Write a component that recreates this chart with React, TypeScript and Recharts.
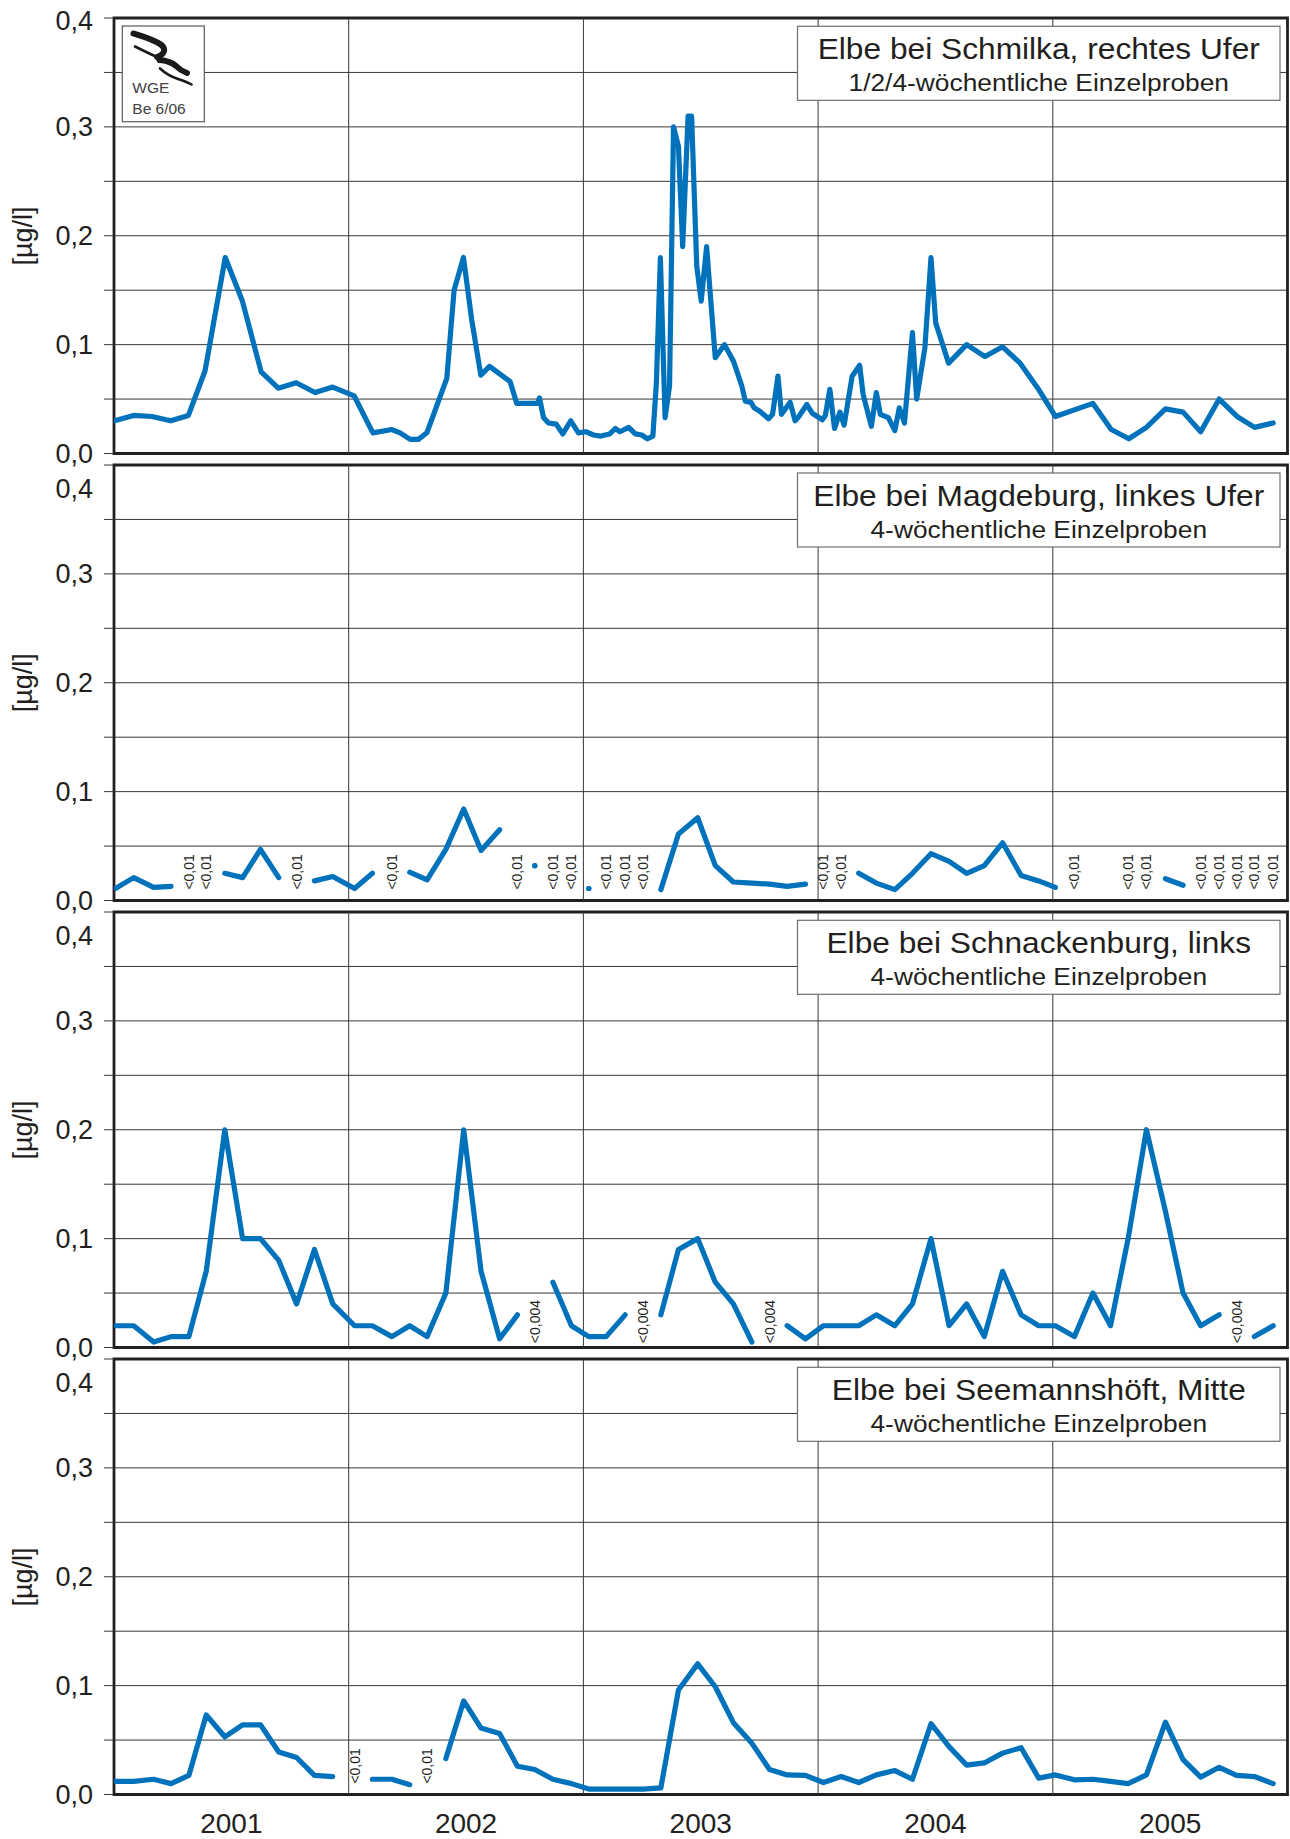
import React from "react";
import {
  LineChart,
  Line,
  XAxis,
  YAxis,
  CartesianGrid,
  ReferenceLine,
  ReferenceArea,
} from "recharts";

// Messwerte in µg/l. Zahl = Messwert, Text = Wert unter der Bestimmungsgrenze,
// null = keine Probe.
type Messwert = number | string | null;

// Schmilka: 1/2/4-wöchentliche Einzelproben (Dezimaljahr)
const schmilkaTermine = [
  2001.002, 2001.083, 2001.161, 2001.242, 2001.317, 2001.388, 2001.474, 2001.547, 2001.627, 2001.7,
  2001.776, 2001.857, 2001.932, 2002.023, 2002.103, 2002.184, 2002.219, 2002.262, 2002.297, 2002.333,
  2002.418, 2002.449, 2002.489, 2002.524, 2002.563, 2002.6, 2002.688, 2002.716, 2002.804, 2002.813,
  2002.83, 2002.851, 2002.884, 2002.912, 2002.946, 2002.979, 2003.01, 2003.043, 2003.074, 2003.112,
  2003.137, 2003.155, 2003.193, 2003.221, 2003.249, 2003.273, 2003.296, 2003.311, 2003.328, 2003.348,
  2003.367, 2003.384, 2003.405, 2003.423, 2003.446, 2003.461, 2003.483, 2003.502, 2003.525, 2003.54,
  2003.562, 2003.601, 2003.639, 2003.675, 2003.69, 2003.714, 2003.727, 2003.75, 2003.789, 2003.806,
  2003.829, 2003.844, 2003.881, 2003.902, 2003.918, 2003.952, 2003.975, 2004.018, 2004.031, 2004.05,
  2004.07, 2004.093, 2004.111, 2004.145, 2004.177, 2004.192, 2004.227, 2004.248, 2004.265, 2004.299,
  2004.327, 2004.346, 2004.368, 2004.402, 2004.42, 2004.455, 2004.481, 2004.501, 2004.556, 2004.633,
  2004.711, 2004.786, 2004.861, 2004.936, 2005.011, 2005.171, 2005.249, 2005.324, 2005.399, 2005.48,
  2005.555, 2005.63, 2005.709, 2005.785, 2005.86, 2005.939,
];
const schmilkaWerte: Messwert[] = [
  0.03, 0.035, 0.034, 0.03, 0.035, 0.076, 0.18, 0.14, 0.075, 0.06,
  0.065, 0.056, 0.061, 0.053, 0.019, 0.022, 0.019, 0.013, 0.013, 0.019,
  0.069, 0.15, 0.18, 0.123, 0.072, 0.08, 0.066, 0.046, 0.046, 0.051,
  0.033, 0.028, 0.027, 0.018, 0.03, 0.019, 0.02, 0.017, 0.016, 0.018,
  0.023, 0.02, 0.024, 0.018, 0.017, 0.0135, 0.016, 0.065, 0.18, 0.033,
  0.062, 0.3, 0.282, 0.19, 0.31, 0.31, 0.172, 0.14, 0.19, 0.148,
  0.088, 0.1, 0.085, 0.062, 0.048, 0.047, 0.042, 0.039, 0.032, 0.036,
  0.071, 0.036, 0.047, 0.03, 0.034, 0.045, 0.037, 0.031, 0.035, 0.059,
  0.023, 0.038, 0.026, 0.071, 0.081, 0.054, 0.025, 0.056, 0.036, 0.033,
  0.021, 0.042, 0.028, 0.111, 0.05, 0.097, 0.18, 0.12, 0.083, 0.1,
  0.089, 0.098, 0.083, 0.06, 0.034, 0.046, 0.022, 0.0135, 0.024, 0.041,
  0.038, 0.02, 0.05, 0.034, 0.024, 0.028,
];

// 4-wöchentliche Probenahmetermine (Dezimaljahr)
const probenTermine = [
  2001.006, 2001.084, 2001.169, 2001.243, 2001.319, 2001.393, 2001.472, 2001.548, 2001.624, 2001.702, 2001.778, 2001.854, 2001.932,
  2002.025, 2002.101, 2002.184, 2002.26, 2002.334, 2002.414, 2002.49, 2002.564, 2002.643, 2002.719, 2002.793, 2002.87, 2002.949,
  2003.023, 2003.097, 2003.178, 2003.253, 2003.33, 2003.405, 2003.487, 2003.562, 2003.639, 2003.718, 2003.793, 2003.868, 2003.946,
  2004.023, 2004.098, 2004.173, 2004.248, 2004.327, 2004.402, 2004.481, 2004.558, 2004.633, 2004.708, 2004.786, 2004.865, 2004.94,
  2005.011, 2005.092, 2005.171, 2005.246, 2005.321, 2005.399, 2005.48, 2005.555, 2005.63, 2005.709, 2005.783, 2005.859, 2005.939,
];

const magdeburgWerte: Messwert[] = [
  0.011, 0.021, 0.012, 0.013, "<0,01", "<0,01", 0.025, 0.021, 0.047, 0.021, "<0,01", 0.018, 0.022,
  0.011, 0.025, "<0,01", 0.026, 0.019, 0.047, 0.084, 0.046, 0.065, "<0,01", 0.032, "<0,01", "<0,01",
  0.011, "<0,01", "<0,01", "<0,01", 0.01, 0.061, 0.076, 0.032, 0.017, 0.016, 0.015, 0.013, 0.015,
  "<0,01", "<0,01", 0.025, 0.016, 0.01, 0.025, 0.043, 0.036, 0.025, 0.032, 0.053, 0.023, 0.018,
  0.012, "<0,01", null, null, "<0,01", "<0,01", 0.02, 0.014, "<0,01", "<0,01", "<0,01", "<0,01", "<0,01",
];

const schnackenburgWerte: Messwert[] = [
  0.02, 0.02, 0.005, 0.01, 0.01, 0.07, 0.2, 0.1, 0.1, 0.08, 0.04, 0.09, 0.04,
  0.02, 0.02, 0.01, 0.02, 0.01, 0.05, 0.2, 0.07, 0.008, 0.03, "<0,004", 0.06, 0.02,
  0.01, 0.01, 0.03, "<0,004", 0.03, 0.09, 0.1, 0.06, 0.04, 0.005, "<0,004", 0.02, 0.008,
  0.02, 0.02, 0.02, 0.03, 0.02, 0.04, 0.1, 0.02, 0.04, 0.01, 0.07, 0.03, 0.02,
  0.02, 0.01, 0.05, 0.02, 0.1, 0.2, 0.125, 0.05, 0.02, 0.03, "<0,004", 0.01, 0.02,
];

const seemannshoeftWerte: Messwert[] = [
  0.012, 0.012, 0.014, 0.01, 0.0175, 0.073, 0.053, 0.064, 0.064, 0.039, 0.034, 0.0175, 0.0165,
  "<0,01", 0.014, 0.014, 0.009, "<0,01", 0.033, 0.086, 0.061, 0.056, 0.026, 0.023, 0.014, 0.01,
  0.005, 0.005, 0.005, 0.005, 0.006, 0.096, 0.12, 0.099, 0.066, 0.047, 0.023, 0.018, 0.0175,
  0.011, 0.0165, 0.011, 0.018, 0.022, 0.014, 0.065, 0.044, 0.027, 0.029, 0.038, 0.043, 0.015,
  0.018, 0.0135, 0.014, 0.012, 0.01, 0.018, 0.0665, 0.032, 0.016, 0.025, 0.0175, 0.0165, 0.01,
];

const jahre = [2001, 2002, 2003, 2004, 2005];
const yTicks = [0, 0.05, 0.1, 0.15, 0.2, 0.25, 0.3, 0.35, 0.4];

const stationen = [
  { titel: "Elbe bei Schmilka, rechtes Ufer", untertitel: "1/2/4-wöchentliche Einzelproben", termine: schmilkaTermine, werte: schmilkaWerte },
  { titel: "Elbe bei Magdeburg, linkes Ufer", untertitel: "4-wöchentliche Einzelproben", termine: probenTermine, werte: magdeburgWerte },
  { titel: "Elbe bei Schnackenburg, links", untertitel: "4-wöchentliche Einzelproben", termine: probenTermine, werte: schnackenburgWerte },
  { titel: "Elbe bei Seemannshöft, Mitte", untertitel: "4-wöchentliche Einzelproben", termine: probenTermine, werte: seemannshoeftWerte },
];

// ---- Darstellung ----
const BLAU = "#0072bc";
const TEXT = "#231f20";
const GITTER = "#383838";
const FONT = "'Liberation Sans', Arial, Helvetica, sans-serif";
const LINIE = 5.2;
const PLOT_LEFT = 114;
const PLOT_RIGHT_MARGIN = 2.5;
const PANEL_H = 435.5;
const PAD = 20;
const ACHSE_H = 44;
const PANEL_TOPS = [18.3, 465, 912.3, 1359.3];
const BOX_X = 797.5;
const BOX_W = 482.5;

type Punkt = { t: number; wert: number | null; grenze: number | null; hinweis: string | null };

function aufbereiten(termine: number[], werte: Messwert[]): Punkt[] {
  return termine.map((t, i) => {
    const v = werte[i];
    if (typeof v === "string") {
      return { t, wert: null, grenze: parseFloat(v.slice(1).replace(",", ".")), hinweis: v };
    }
    return { t, wert: v, grenze: null, hinweis: null };
  });
}

const fmt = (v: number) => v.toFixed(1).replace(".", ",");

function WertTick(props: any) {
  const { y, payload, obenVersatz } = props;
  const v: number = payload.value;
  const zehntel = Math.abs(v * 10 - Math.round(v * 10)) < 1e-6;
  const dy = v >= 0.399 ? obenVersatz : 0;
  return (
    <g>
      <line x1={PLOT_LEFT - 10} x2={PLOT_LEFT} y1={y} y2={y} stroke={GITTER} strokeWidth={1} />
      {zehntel && (
        <text
          x={93}
          y={y + dy}
          textAnchor="end"
          dominantBaseline="central"
          fontFamily={FONT}
          fontSize={27}
          fill={TEXT}
        >
          {fmt(v)}
        </text>
      )}
    </g>
  );
}

function JahrTick(props: any) {
  const { x, payload } = props;
  return (
    <text x={x} y={PAD + PANEL_H + 38.5} textAnchor="middle" fontFamily={FONT} fontSize={28} fill={TEXT}>
      {String(Math.floor(payload.value))}
    </text>
  );
}

function Panel({ index }: { index: number }) {
  const station = stationen[index];
  const daten = aufbereiten(station.termine, station.werte);
  const letztes = index === stationen.length - 1;
  const obenVersatz = index === 0 ? 3 : 24;

  const einzelPunkt = (p: any) => {
    const i = p.index;
    const key = `p${i}`;
    if (p.cx == null || p.cy == null || daten[i] == null || daten[i].wert == null) return <g key={key} />;
    const vor = i > 0 ? daten[i - 1].wert : null;
    const nach = i < daten.length - 1 ? daten[i + 1].wert : null;
    if (vor == null && nach == null) {
      return <circle key={key} cx={p.cx} cy={p.cy} r={2.6} fill={BLAU} />;
    }
    return <g key={key} />;
  };

  const grenzHinweis = (p: any) => {
    const i = p.index;
    const key = `g${i}`;
    const d = daten[i];
    if (p.cx == null || p.cy == null || d == null || d.hinweis == null) return <g key={key} />;
    return (
      <text
        key={key}
        x={p.cx}
        y={p.cy}
        transform={`rotate(-90 ${p.cx} ${p.cy})`}
        textAnchor="start"
        dominantBaseline="central"
        fontFamily={FONT}
        fontSize={14}
        fill={TEXT}
      >
        {d.hinweis}
      </text>
    );
  };

  const height = PAD + PANEL_H + (letztes ? ACHSE_H : PAD);

  return (
    <div style={{ position: "absolute", left: 0, top: PANEL_TOPS[index] - PAD }}>
      <LineChart
        width={1290}
        height={height}
        data={daten}
        margin={{ top: PAD, right: PLOT_RIGHT_MARGIN, left: 0, bottom: letztes ? 0 : PAD }}
      >
        <CartesianGrid vertical={false} stroke={GITTER} strokeWidth={1} />
        {jahre.slice(1).map((j) => (
          <ReferenceLine key={j} x={j} stroke={GITTER} strokeWidth={1} />
        ))}
        <XAxis
          dataKey="t"
          type="number"
          domain={[jahre[0], jahre[jahre.length - 1] + 1]}
          ticks={jahre.map((j) => j + 0.5)}
          hide={!letztes}
          height={ACHSE_H}
          tickLine={false}
          axisLine={false}
          interval={0}
          tick={<JahrTick />}
          allowDataOverflow
        />
        <YAxis
          type="number"
          domain={[0, 0.4]}
          ticks={yTicks}
          width={PLOT_LEFT}
          interval={0}
          tickLine={false}
          axisLine={false}
          tick={(p: any) => <WertTick {...p} obenVersatz={obenVersatz} />}
          allowDataOverflow
        />
        <ReferenceArea
          x1={jahre[0]}
          x2={jahre[jahre.length - 1] + 1}
          y1={0}
          y2={0.4}
          fill="none"
          fillOpacity={0}
          stroke={TEXT}
          strokeWidth={2.8}
          ifOverflow="visible"
        />
        <Line
          dataKey="wert"
          type="linear"
          stroke={BLAU}
          strokeWidth={LINIE}
          strokeLinejoin="round"
          strokeLinecap="round"
          connectNulls={false}
          dot={einzelPunkt}
          activeDot={false}
          isAnimationActive={false}
        />
        <Line
          dataKey="grenze"
          type="linear"
          stroke="none"
          strokeWidth={0}
          connectNulls={false}
          dot={grenzHinweis}
          activeDot={false}
          isAnimationActive={false}
        />
      </LineChart>
    </div>
  );
}

function TitelBox({ top, titel, untertitel }: { top: number; titel: string; untertitel: string }) {
  const cx = BOX_X + BOX_W / 2;
  return (
    <g>
      <rect x={BOX_X} y={top + 8} width={BOX_W} height={74} fill="#fff" stroke="#6d6e71" strokeWidth={1.2} />
      <text
        transform={`translate(${cx} ${top + 40.5}) scale(1.075 1)`}
        textAnchor="middle"
        fontFamily={FONT}
        fontSize={29.5}
        fill={TEXT}
      >
        {titel}
      </text>
      <text
        transform={`translate(${cx} ${top + 73}) scale(1.075 1)`}
        textAnchor="middle"
        fontFamily={FONT}
        fontSize={24.5}
        fill={TEXT}
      >
        {untertitel}
      </text>
    </g>
  );
}

function Logo() {
  return (
    <g>
      <rect x={122.3} y={26} width={82} height={95.7} fill="#fff" stroke="#58595b" strokeWidth={1.2} />
      <g fill="none" stroke="#1a1a1a" strokeLinecap="round" strokeLinejoin="round">
        <path d="M133.5,33.5 C145,37 155,40 161.5,45 C166,49 165,54 157,57" strokeWidth={6} />
        <path d="M159.5,60 C166,60.5 172,62.5 176,66 C179,69 183,71.5 187,73" strokeWidth={6} />
        <path d="M135,46.5 C143,50.5 150,54 157,57" strokeWidth={2.6} />
        <path d="M160,68.5 C166,74 172,77 178,79 C184,81 189,83 191.5,84.5" strokeWidth={2.6} />
      </g>
      <text x={132.3} y={93.3} fontFamily={FONT} fontSize={15.5} fill="#414042">
        WGE
      </text>
      <text x={132.3} y={114.3} fontFamily={FONT} fontSize={15.5} fill="#414042">
        Be 6/06
      </text>
    </g>
  );
}

export default function App() {
  return (
    <div
      style={{
        position: "absolute",
        left: 0,
        top: 0,
        width: 1290,
        height: 1839,
        overflow: "hidden",
        background: "#fff",
      }}
    >
      {stationen.map((_, i) => (
        <Panel key={i} index={i} />
      ))}
      <svg
        width={1290}
        height={1839}
        style={{ position: "absolute", left: 0, top: 0, pointerEvents: "none" }}
      >
        {stationen.map((s, i) => {
          const top = PANEL_TOPS[i];
          const mitte = top + PANEL_H / 2;
          return (
            <g key={i}>
              <text
                x={32}
                y={mitte}
                transform={`rotate(-90 32 ${mitte})`}
                textAnchor="middle"
                fontFamily={FONT}
                fontSize={27}
                fill={TEXT}
              >
                [µg/l]
              </text>
              <TitelBox top={top} titel={s.titel} untertitel={s.untertitel} />
            </g>
          );
        })}
        <Logo />
      </svg>
    </div>
  );
}
